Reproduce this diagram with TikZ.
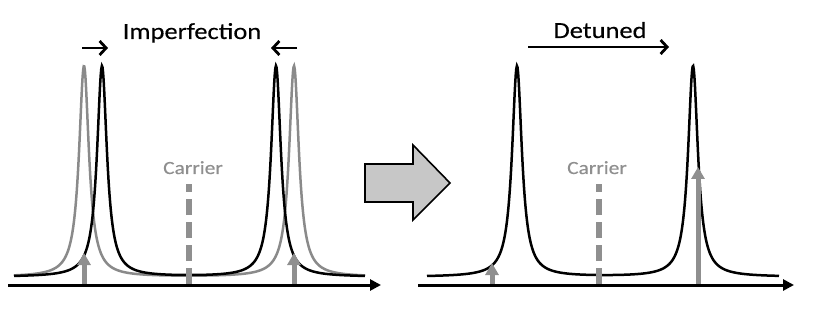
\documentclass[tikz,border=0pt]{standalone}
\usepackage{fontspec}
\setmainfont[FakeStretch=1.15,FakeBold=0.3]{Carlito}
\usetikzlibrary{arrows.meta}
\definecolor{sidegrey}{gray}{0.56}
\definecolor{curvegrey}{gray}{0.54}

\begin{document}
\begin{tikzpicture}[x=1pt,y=1pt,>=stealth,
  axis/.style={line width=3pt,-{Triangle[length=11pt,width=11pt]}},
  shiftarrow/.style={line width=2.8pt,-{Straight Barb[length=6.5pt,width=14pt]}},
  probe/.style={draw=sidegrey,line width=5pt,-{Triangle[length=12pt,width=13pt]}},
  carrier/.style={draw=sidegrey,line width=5.5pt,dash pattern=on 16pt off 7pt},
  resonance/.style={line width=2.5pt,samples=600},
  title/.style={anchor=base,font=\fontsize{23}{27}\selectfont},
  tag/.style={anchor=base,text=sidegrey,font=\fontsize{18.6}{22}\selectfont}]
  \useasboundingbox (0,0) rectangle (817,311);

  % Left: the two resonances, grey before and black after the imperfection.
  \draw[resonance,curvegrey,domain=14:365] plot (\x,{34+211/(1+((\x-84)/6)^2)+211/(1+((\x-294)/6)^2)});
  \draw[resonance,black,domain=14:365] plot (\x,{34+211/(1+((\x-102)/6)^2)+211/(1+((\x-276)/6)^2)});

  \coordinate (lc0) at (189,27);  \coordinate (lc1) at (189,127);
  \draw[carrier] (lc0) -- (lc1);
  \node[tag] (lcarrier) at (193,137) {Carrier};

  \coordinate (lp0) at (84,26);   \coordinate (lp1) at (84,58);
  \coordinate (lq0) at (294,26);  \coordinate (lq1) at (294,58);
  \draw[probe] (lp0) -- (lp1);
  \draw[probe] (lq0) -- (lq1);

  \coordinate (la0) at (8,26);    \coordinate (la1) at (381,26);
  \draw[axis] (la0) -- (la1);

  \node[title] (imperf) at (192,272) {Imperfection};
  \coordinate (ls0) at (82,263);  \coordinate (ls1) at (108,263);
  \coordinate (rs0) at (297,263); \coordinate (rs1) at (271,263);
  \draw[shiftarrow] (ls0) -- (ls1);
  \draw[shiftarrow] (rs0) -- (rs1);

  % Block arrow in between.
  \draw[line width=1.6pt,fill=black!22,line join=miter]
    (365,147) -- (413,147) -- (413,166) -- (450,128) -- (413,91) -- (413,109) -- (365,109) -- cycle;

  % Right: detuned pair of resonances.
  \draw[resonance,black,domain=427:779] plot (\x,{34+211/(1+((\x-517)/6)^2)+211/(1+((\x-693)/6)^2)});

  \coordinate (rc0) at (599,27);  \coordinate (rc1) at (599,127);
  \draw[carrier] (rc0) -- (rc1);
  \node[tag] (rcarrier) at (597,137) {Carrier};

  \coordinate (rp0) at (492,26);  \coordinate (rp1) at (492,48);
  \coordinate (rq0) at (698,26);  \coordinate (rq1) at (698,144);
  \draw[probe] (rp0) -- (rp1);
  \draw[probe] (rq0) -- (rq1);

  \coordinate (ra0) at (418,26);  \coordinate (ra1) at (794,26);
  \draw[axis] (ra0) -- (ra1);

  \node[title] (detuned) at (600,273) {Detuned};
  \coordinate (ds0) at (528,264); \coordinate (ds1) at (669,264);
  \draw[shiftarrow] (ds0) -- (ds1);
\end{tikzpicture}
\end{document}
